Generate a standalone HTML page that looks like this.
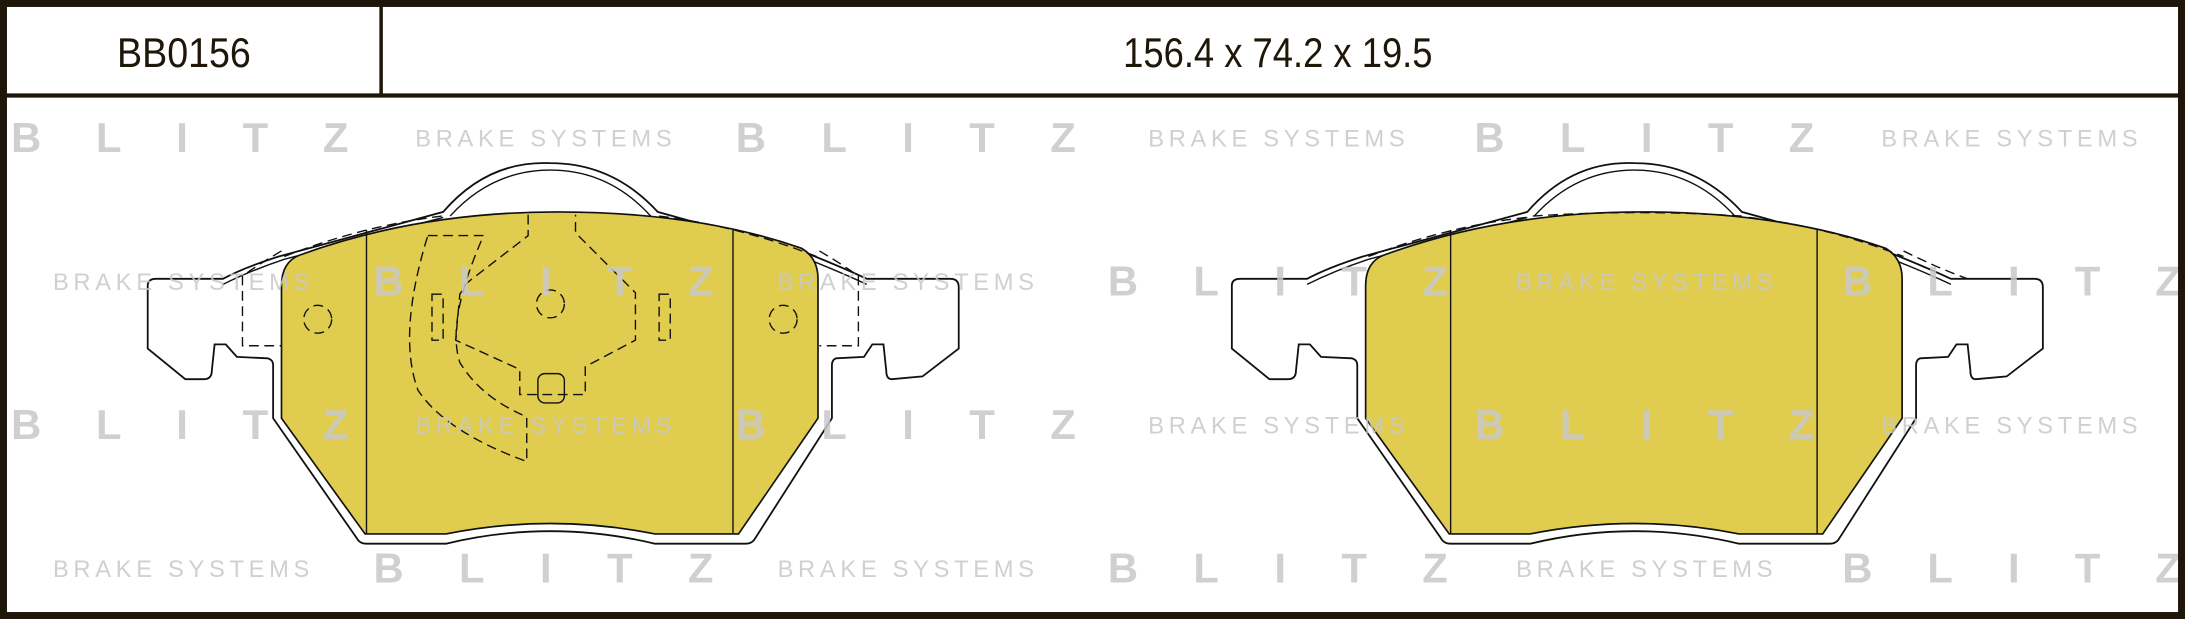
<!DOCTYPE html>
<html><head><meta charset="utf-8"><style>
html,body{margin:0;padding:0;background:#fff;}
svg{display:block;}
</style></head><body>
<svg width="2185" height="619" viewBox="0 0 1568 444" preserveAspectRatio="none" xmlns="http://www.w3.org/2000/svg">
<rect x="0" y="0" width="1568" height="444" fill="#fff"/>
<defs>
<g id="pad">
<path d="M106,205 Q106,200 112,200 L160,200 Q175,192 200,184 L318,152 Q350,115 395,117 Q440,117 472,152 L580,182 Q605,192 622,200 L682,200 Q688,200 688,206 L688,250 L662,270 L640,272 Q636,272 636,266 L634,247 L626,247 L620,256 L600,257 Q597,258 597,262 L597,300 L542,386 Q540,390 535,390 L470,390 Q395,372 320,390 L263,390 Q258,390 256,386 L196,300 L196,262 Q196,258 192,257 L170,256 L162,247 L154,247 L152,266 Q152,272 146,272 L133,272 L106,250 Z" fill="#fff" stroke="#111" stroke-width="1.3"/>
<path d="M323,155 Q353,122 395,122 Q437,122 467,155" fill="none" stroke="#111" stroke-width="1"/>
<path d="M160,204 Q180,194 204,186 L318,156 M472,156 L580,186 Q605,196 622,204" fill="none" stroke="#111" stroke-width="1"/>
<path d="M202,205 Q202,188 215,183 Q300,152 400,152 Q500,152 575,178 Q587,185 587,200 L587,300 L530,383 L470,383 Q395,368 320,383 L262,383 L202,300 Z" fill="#e0cd50" stroke="#111" stroke-width="1.2"/>
</g>
</defs>
<use href="#pad"/>
<use href="#pad" transform="translate(778,0)"/>
<g fill="none" stroke="#111" stroke-width="1">
<line x1="263" y1="165" x2="263" y2="383"/>
<line x1="526" y1="165" x2="526" y2="383"/>
<line x1="1041" y1="165" x2="1041" y2="383"/>
<line x1="1304" y1="165" x2="1304" y2="383"/>
</g>
<g fill="none" stroke="#111" stroke-width="1" stroke-dasharray="7,4">
<circle cx="395" cy="218" r="10"/>
<circle cx="228" cy="229" r="10"/>
<circle cx="562" cy="229" r="10"/>
<path d="M379,154 L379,169 L335,203 L330,211 L327,244 L373,265 L373,283 L420,283 L420,263 L456,244 L456,210 L413,167 L413,154"/>
<rect x="310" y="211" width="8" height="33"/>
<rect x="473" y="211" width="8" height="33"/>
<path d="M307,169 L347,169 Q320,230 330,260 Q345,285 378,299 L378,331 Q320,310 300,280 Q285,240 307,169 Z"/>
<path d="M202,180 Q185,190 174,198 L174,248 L202,248"/>
<path d="M588,180 Q605,190 616,198 L616,248 L588,248"/>
<path d="M204,184 Q260,162 317,155"/>
<path d="M473,155 Q530,162 586,184"/>
<path d="M1100,155 Q1175,150 1250,155"/>
<path d="M982,184 Q1040,162 1095,156"/>
<path d="M1255,156 Q1310,162 1366,184"/>
<path d="M1366,180 Q1390,192 1412,200"/>
</g>
<rect x="386" y="268" width="19" height="21" rx="5" fill="none" stroke="#111" stroke-width="1"/>
<g fill="#c8c8c8" fill-opacity="0.85" font-family="Liberation Sans, sans-serif">
<g font-size="30" font-weight="bold">
<text x="8" y="109" textLength="242" lengthAdjust="spacing">BLITZ</text>
<text x="528" y="109" textLength="244" lengthAdjust="spacing">BLITZ</text>
<text x="1058" y="109" textLength="244" lengthAdjust="spacing">BLITZ</text>
<text x="268" y="212" textLength="244" lengthAdjust="spacing">BLITZ</text>
<text x="795" y="212" textLength="244" lengthAdjust="spacing">BLITZ</text>
<text x="1322" y="212" textLength="243" lengthAdjust="spacing">BLITZ</text>
<text x="8" y="315" textLength="242" lengthAdjust="spacing">BLITZ</text>
<text x="528" y="315" textLength="244" lengthAdjust="spacing">BLITZ</text>
<text x="1058" y="315" textLength="244" lengthAdjust="spacing">BLITZ</text>
<text x="268" y="418" textLength="244" lengthAdjust="spacing">BLITZ</text>
<text x="795" y="418" textLength="244" lengthAdjust="spacing">BLITZ</text>
<text x="1322" y="418" textLength="243" lengthAdjust="spacing">BLITZ</text>
</g>
<g font-size="17" font-family="Liberation Sans Narrow, Liberation Sans, sans-serif">
<text x="298" y="105" textLength="184" lengthAdjust="spacing">BRAKE SYSTEMS</text>
<text x="824" y="105" textLength="184" lengthAdjust="spacing">BRAKE SYSTEMS</text>
<text x="1350" y="105" textLength="184" lengthAdjust="spacing">BRAKE SYSTEMS</text>
<text x="38" y="208" textLength="184" lengthAdjust="spacing">BRAKE SYSTEMS</text>
<text x="558" y="208" textLength="184" lengthAdjust="spacing">BRAKE SYSTEMS</text>
<text x="1088" y="208" textLength="184" lengthAdjust="spacing">BRAKE SYSTEMS</text>
<text x="298" y="311" textLength="184" lengthAdjust="spacing">BRAKE SYSTEMS</text>
<text x="824" y="311" textLength="184" lengthAdjust="spacing">BRAKE SYSTEMS</text>
<text x="1350" y="311" textLength="184" lengthAdjust="spacing">BRAKE SYSTEMS</text>
<text x="38" y="414" textLength="184" lengthAdjust="spacing">BRAKE SYSTEMS</text>
<text x="558" y="414" textLength="184" lengthAdjust="spacing">BRAKE SYSTEMS</text>
<text x="1088" y="414" textLength="184" lengthAdjust="spacing">BRAKE SYSTEMS</text>
</g>
</g>
<rect x="2.5" y="2.5" width="1563" height="439" fill="none" stroke="#1e1608" stroke-width="5"/>
<line x1="0" y1="68.5" x2="1568" y2="68.5" stroke="#1e1608" stroke-width="3"/>
<line x1="273.5" y1="0" x2="273.5" y2="68" stroke="#1e1608" stroke-width="2.5"/>
<g fill="#1e1608" font-family="Liberation Sans Narrow, Liberation Sans, sans-serif" font-size="30">
<text x="84" y="48" textLength="96" lengthAdjust="spacingAndGlyphs">BB0156</text>
<text x="806" y="48" textLength="222" lengthAdjust="spacingAndGlyphs">156.4 x 74.2 x 19.5</text>
</g>
</svg>
</body></html>
